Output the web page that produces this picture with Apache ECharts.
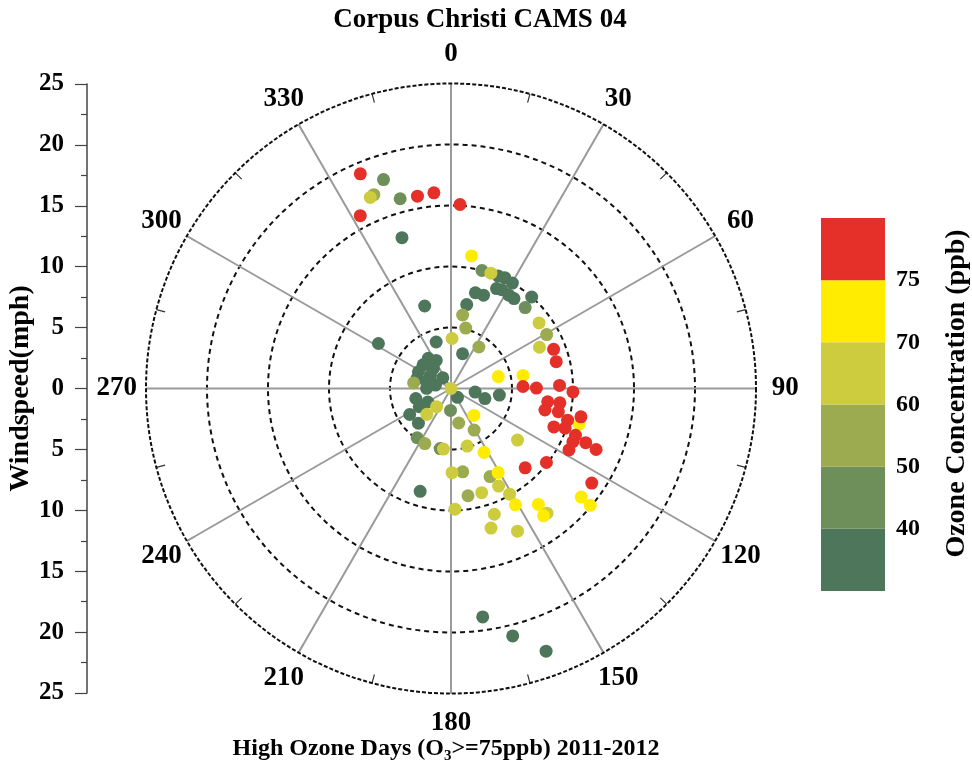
<!DOCTYPE html>
<html>
<head>
<meta charset="utf-8">
<script src="https://cdn.jsdelivr.net/npm/echarts@6/dist/echarts.min.js"></script>
<style>html,body{margin:0;padding:0;background:#fff}#c{width:972px;height:770px}</style>
</head>
<body>
<div id="c"></div>
<script>
// ---- data: wind speed (mph), wind direction (deg), ozone (ppb) ----
const windSpeed = [
  // dark green (< 40 ppb)
  13.0, 7.1, 7.0, 4.0, 3.0, 7.0, 8.1, 8.1, 10.0, 10.1, 10.0, 9.0, 9.1, 9.0, 9.0, 10.0, 4.0, 2.0, 2.9, 0.9,
  3.0, 2.2, 3.0, 4.0, 3.9, 8.8, 18.9, 20.9, 22.9, 3.1, 3.0, 2.2, 3.0, 2.0, 2.9, 2.1, 1.1, 2.0, 1.3, 2.6,
  // green (40-50)
  18.0, 16.1, 10.0, 9.0, 1.8, 5.0, 4.9,
  // olive (50-60)
  17.1, 6.1, 5.1, 9.0, 4.1, 2.9, 3.9, 6.9, 7.9, 8.9, 5.0, 3.1,
  // yellow-green (60-70)
  17.0, 10.0, 9.0, 8.0, 4.1, 0.0, 1.9, 2.9, 6.9, 4.9, 6.9, 8.9, 9.9, 8.9, 9.9, 10.9, 11.9, 12.9, 12.9, 5.0,
  // yellow (70-75)
  11.0, 4.0, 6.0, 10.9, 2.9, 5.9, 7.9, 10.9, 11.9, 12.9, 13.9, 14.9,
  // red (>= 75)
  19.1, 16.0, 16.1, 15.1, 16.0, 9.0, 8.9, 5.9, 7.0, 8.9, 10.0, 8.0, 9.0, 7.9, 9.0, 9.0, 9.9, 10.9, 9.9, 10.9,
  10.9, 11.9, 12.9, 10.9, 8.9, 9.9, 13.9
];
const windDirection = [
  342.0, 342.3, 301.8, 342.3, 18.4, 10.6, 14.3, 19.2, 22.8, 25.9, 30.2, 24.5, 27.2, 31.8, 35.0, 41.4, 97.7, 98.5, 106.6, 143.8,
  254.1, 239.8, 240.1, 237.8, 223.2, 196.7, 172.1, 166.0, 160.1, 323.1, 310.3, 318.8, 297.2, 302.7, 286.6, 285.6, 322.5, 270.5, 282.3, 332.2,
  342.1, 345.0, 14.7, 42.5, 181.3, 190.2, 214.5,
  338.3, 9.0, 13.7, 60.6, 33.9, 167.4, 150.9, 172.0, 156.1, 171.0, 205.4, 278.5,
  337.1, 19.1, 53.3, 65.0, 1.2, 0.0, 218.5, 223.1, 127.8, 164.3, 179.3, 154.0, 151.0, 163.6, 178.1, 161.0, 164.0, 155.0, 142.4, 187.1,
  8.8, 75.8, 79.7, 105.6, 139.6, 152.7, 150.7, 151.0, 143.0, 144.0, 129.8, 130.0,
  337.1, 350.1, 355.0, 2.8, 332.3, 69.1, 75.7, 88.4, 89.7, 88.4, 91.6, 97.8, 97.5, 102.9, 102.2, 110.5, 105.2, 102.3, 109.2, 110.6,
  113.6, 111.9, 112.8, 117.5, 136.9, 127.8, 123.9
];
const ozonePpb = [
  35,35,35,35,35,35,35,35,35,35,35,35,35,35,35,35,35,35,35,35,
  35,35,35,35,35,35,35,35,35,35,35,35,35,35,35,35,35,35,35,35,
  45,45,45,45,45,45,45,
  55,55,55,55,55,55,55,55,55,55,55,55,
  65,65,65,65,65,65,65,65,65,65,65,65,65,65,65,65,65,65,65,65,
  72,72,72,72,72,72,72,72,72,72,72,72,
  78,78,78,78,78,78,78,78,78,78,78,78,78,78,78,78,78,78,78,78,
  78,78,78,78,78,78,78
];

// ---- axes / legend text ----
const angleTicks = [0, 30, 60, 90, 120, 150, 180, 210, 240, 270, 300, 330];
const colorbarTickLabels = ['', '40', '50', '60', '70', '75', ''];
const ozoneBreaks = [40, 50, 60, 70, 75];
const bandColors = ['#4D765A', '#6E8E5A', '#9CAA50', '#CDCC3E', '#FFEC00', '#E5302A'];

const FONT = '"Liberation Serif", "Times New Roman", serif';
const INK = '#000';

const points = windSpeed.map((s, i) => [s, windDirection[i], ozonePpb[i]]);
const LABEL_R = 27.4;

const chart = echarts.init(document.getElementById('c'), null, { renderer: 'canvas' });

const pieces = [
  { lt: ozoneBreaks[0], color: bandColors[0] },
  { gte: ozoneBreaks[0], lt: ozoneBreaks[1], color: bandColors[1] },
  { gte: ozoneBreaks[1], lt: ozoneBreaks[2], color: bandColors[2] },
  { gte: ozoneBreaks[2], lt: ozoneBreaks[3], color: bandColors[3] },
  { gte: ozoneBreaks[3], lt: ozoneBreaks[4], color: bandColors[4] },
  { gte: ozoneBreaks[4], color: bandColors[5] }
];

const option = {
  animation: false,
  backgroundColor: '#fff',
  polar: { center: [451, 388.5], radius: 305 },
  radiusAxis: {
    type: 'value', min: 0, max: 25, interval: 5,
    axisLine: { show: false }, axisTick: { show: false }, axisLabel: { show: false },
    splitLine: { show: true, lineStyle: { color: ['#111', '#111', '#111', '#111', '#111', 'rgba(0,0,0,0)'], width: 2, type: [5, 4] } }
  },
  angleAxis: {
    type: 'value', min: 0, max: 360, interval: 15, startAngle: 90, clockwise: true,
    axisLine: { show: true, lineStyle: { color: '#111', width: 2, type: [4, 2] } },
    axisTick: { show: true, inside: true, length: 9, lineStyle: { color: '#333', width: 1.2 } },
    axisLabel: { show: false },
    splitLine: { show: true, lineStyle: { color: ['#9a9a9a', 'rgba(0,0,0,0)'], width: 2 } }
  },
  grid: [
    { left: 87, top: 84, width: 10, height: 609 },
    { left: 821, top: 218, width: 65, height: 373 }
  ],
  xAxis: [
    { gridIndex: 0, type: 'value', show: false },
    { gridIndex: 1, type: 'category', data: ['band'], show: false }
  ],
  yAxis: [
    {
      gridIndex: 0, type: 'value', min: -25, max: 25, interval: 5,
      axisLine: { show: true, lineStyle: { color: '#444', width: 1.5 } },
      axisTick: { show: true, length: 12, lineStyle: { color: '#444', width: 1.2 } },
      minorTick: { show: true, splitNumber: 2, length: 6, lineStyle: { color: '#444', width: 1.2 } },
      splitLine: { show: false },
      axisLabel: { formatter: v => String(Math.abs(v)), fontFamily: FONT, fontWeight: 'bold', fontSize: 25, color: INK, margin: 23 },
      name: 'Windspeed(mph)', nameLocation: 'middle', nameRotate: 90, nameGap: 52,
      nameTextStyle: { fontFamily: FONT, fontWeight: 'bold', fontSize: 28, color: INK }
    },
    {
      gridIndex: 1, type: 'value', min: 0, max: 6, interval: 1, position: 'right',
      axisLine: { show: false }, axisTick: { show: false }, splitLine: { show: false },
      axisLabel: { formatter: v => colorbarTickLabels[v] || '', fontFamily: FONT, fontWeight: 'bold', fontSize: 24, color: INK, margin: 11, padding: [5, 0, 0, 0] },
      name: 'Ozone Concentration (ppb)', nameLocation: 'middle', nameRotate: 90, nameGap: 58,
      nameTextStyle: { fontFamily: FONT, fontWeight: 'bold', fontSize: 28, color: INK, padding: [0, 0, 0, 22] }
    }
  ],
  visualMap: { type: 'piecewise', show: false, seriesIndex: 0, dimension: 2, pieces: pieces },
  series: [
    {
      type: 'scatter', coordinateSystem: 'polar', data: points, symbolSize: 13,
      itemStyle: { opacity: 1 }, z: 5
    },
    {
      type: 'scatter', coordinateSystem: 'polar', silent: true, clip: false,
      data: angleTicks.map(a => [LABEL_R, a]), symbolSize: 0,
      itemStyle: { color: '#000' },
      label: { show: true, position: 'inside', formatter: p => String(p.value[1]), fontFamily: FONT, fontWeight: 'bold', fontSize: 27, color: INK, textBorderWidth: 0, opacity: 1 }
    }
  ].concat(bandColors.map(c => ({
    type: 'bar', xAxisIndex: 1, yAxisIndex: 1, stack: 'cb', barWidth: '100%', silent: true,
    data: [1], itemStyle: { color: c }
  }))),
  graphic: [
    {
      type: 'text', x: 480, y: 20, silent: true,
      style: { text: 'Corpus Christi CAMS 04', textAlign: 'center', textVerticalAlign: 'middle', fill: INK, font: 'bold 27px ' + FONT }
    },
    {
      type: 'text', x: 446, y: 749, silent: true,
      style: {
        text: '{n|High Ozone Days (O}{s|3}{n|>=75ppb) 2011-2012}',
        textAlign: 'center', textVerticalAlign: 'middle', fill: INK,
        rich: {
          n: { fontFamily: FONT, fontWeight: 'bold', fontSize: 24, fill: INK },
          s: { fontFamily: FONT, fontWeight: 'bold', fontSize: 15, fill: INK, padding: [14, 0, 0, 0] }
        }
      }
    }
  ]
};
chart.setOption(option);
</script>
</body>
</html>
